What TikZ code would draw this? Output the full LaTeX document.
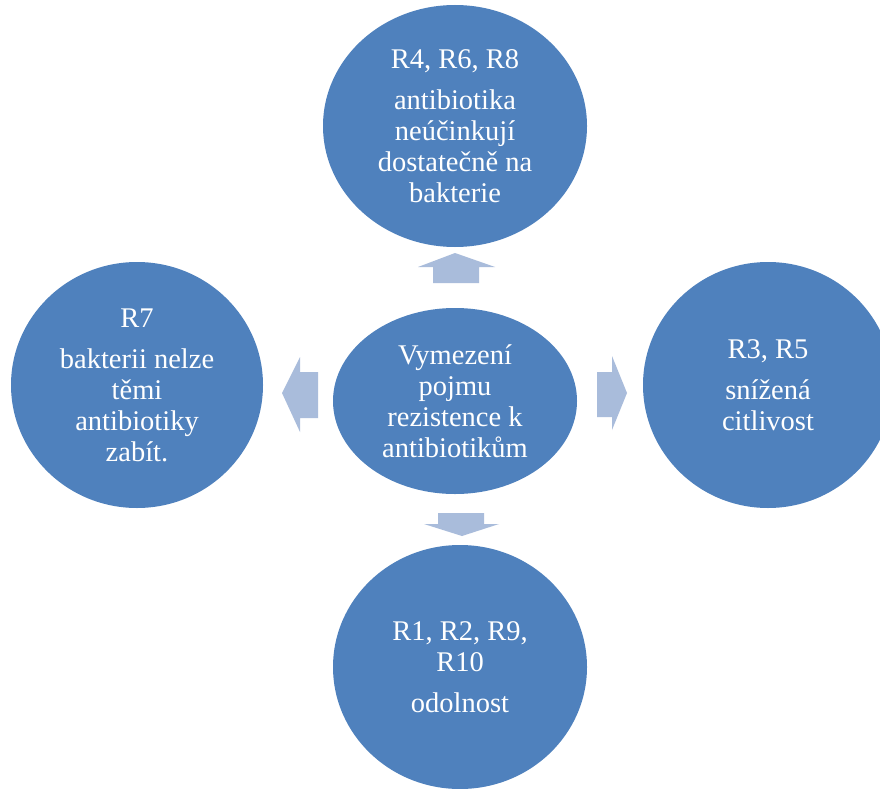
\documentclass[tikz,border=0pt]{standalone}
\usepackage{fontspec}
\setmainfont{Liberation Serif}
\usetikzlibrary{shapes.geometric}
\definecolor{bubble}{HTML}{4F81BD}
\definecolor{blockarrow}{HTML}{A9BCDB}
\tikzset{
  bubble/.style={ellipse, fill=bubble, draw=none, text=white, align=center,
    inner sep=0pt, font=\fontsize{28.5}{31}\selectfont},
  blockarrow/.style={fill=blockarrow, draw=none}
}
\begin{document}
\begin{tikzpicture}[x=1pt, y=-1pt]
\clip (0,0) rectangle (880,789);
\fill[white] (0,0) rectangle (880,789);

% central concept
\node[bubble, minimum width=244pt, minimum height=186pt] (core) at (455,401)
  {Vymezení\\ pojmu\\ rezistence k\\ antibiotikům};

% surrounding aspects
\node[bubble, minimum width=264pt, minimum height=242pt] (top) at (455,126)
  {R4, R6, R8\\[10pt] antibiotika\\ neúčinkují\\ dostatečně na\\ bakterie};
\node[bubble, minimum width=252pt, minimum height=246pt] (left) at (137,385)
  {R7\\[10pt] bakterii nelze\\ těmi\\ antibiotiky\\ zabít.};
\node[bubble, minimum width=250pt, minimum height=246pt] (right) at (768,385)
  {R3, R5\\[10pt] snížená\\ citlivost};
\node[bubble, minimum width=254pt, minimum height=244pt] (bottom) at (460,667)
  {R1, R2, R9,\\ R10\\[10pt] odolnost};

% block arrows pointing from the centre outwards
\fill[blockarrow] (433,283) -- (433,267) -- (418,267) -- (455,253)
  -- (495,267) -- (479,267) -- (479,283) -- cycle;
\fill[blockarrow] (438,513) -- (484,513) -- (484,524) -- (499,524)
  -- (462,536) -- (424,524) -- (438,524) -- cycle;
\fill[blockarrow] (318,372) -- (300,372) -- (300,357) -- (282,393)
  -- (300,432) -- (300,418) -- (318,418) -- cycle;
\fill[blockarrow] (597,372) -- (612,372) -- (612,356) -- (627,393)
  -- (612,430) -- (612,417) -- (597,417) -- cycle;
\end{tikzpicture}
\end{document}
